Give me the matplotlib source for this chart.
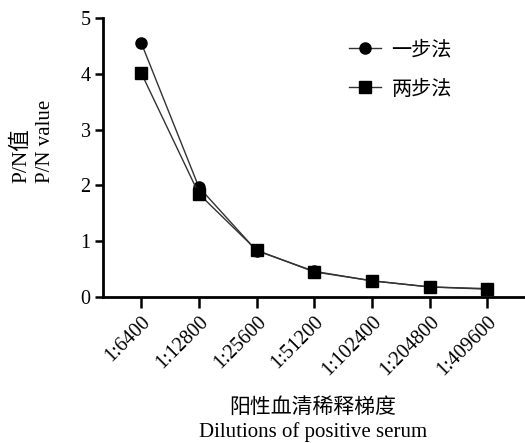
import matplotlib
matplotlib.use('Agg')
import matplotlib.pyplot as plt

plt.rcParams['font.family'] = ['Liberation Serif', 'Noto Sans CJK SC']

dilutions = ['1:6400', '1:12800', '1:25600', '1:51200', '1:102400', '1:204800', '1:409600']
one_step = [4.56, 1.97, 0.83, 0.46, 0.29, 0.18, 0.15]
two_step = [4.02, 1.85, 0.84, 0.45, 0.29, 0.18, 0.14]

W, H = 525, 443
fig = plt.figure(figsize=(W / 100, H / 100), dpi=100)
ax = fig.add_axes([103 / W, 1 - 297 / H, 1 - 103 / W, (297 - 18) / H])

x = list(range(len(dilutions)))
ax.plot(x, one_step, color='#333333', lw=1.0, marker='o', ms=8,
        mfc='black', mec='black', label='一步法')
ax.plot(x, two_step, color='#333333', lw=1.0, marker='s', ms=8,
        mfc='black', mec='black', label='两步法')

ax.set_xlim(-0.66, 6.65)
ax.set_ylim(0, 5)
ax.set_yticks([0, 1, 2, 3, 4, 5])
ax.set_xticks(x)
ax.set_xticklabels(dilutions, rotation=45, ha='right', va='top', rotation_mode='anchor', fontsize=14.5)
ax.tick_params(axis='y', labelsize=14.5, width=1.8, length=6, pad=3)
ax.tick_params(axis='x', width=1.8, length=8, pad=3)

for s in ['top', 'right']:
    ax.spines[s].set_visible(False)
for s in ['left', 'bottom']:
    ax.spines[s].set_linewidth(2)

# axis titles, two lines each (Chinese / English)
fig.text(21 / W, 1 - 183 / H, 'P/N值', rotation=90, ha='left', va='center',
         rotation_mode='anchor', fontsize=15.5)
fig.text(45 / W, 1 - 183 / H, 'P/N value', rotation=90, ha='left', va='center',
         rotation_mode='anchor', fontsize=15)
fig.text(313 / W, 1 - 408 / H, '阳性血清稀释梯度', ha='center', va='center', fontsize=15)
fig.text(313 / W, 1 - 432 / H, 'Dilutions of positive serum', ha='center', va='center', fontsize=15)

ax.legend(loc='upper left', bbox_to_anchor=(0.54, 0.982), frameon=False, fontsize=14.5,
          handlelength=1.6, handletextpad=0.5, labelspacing=1.0)

fig.savefig('out.png', dpi=100)
